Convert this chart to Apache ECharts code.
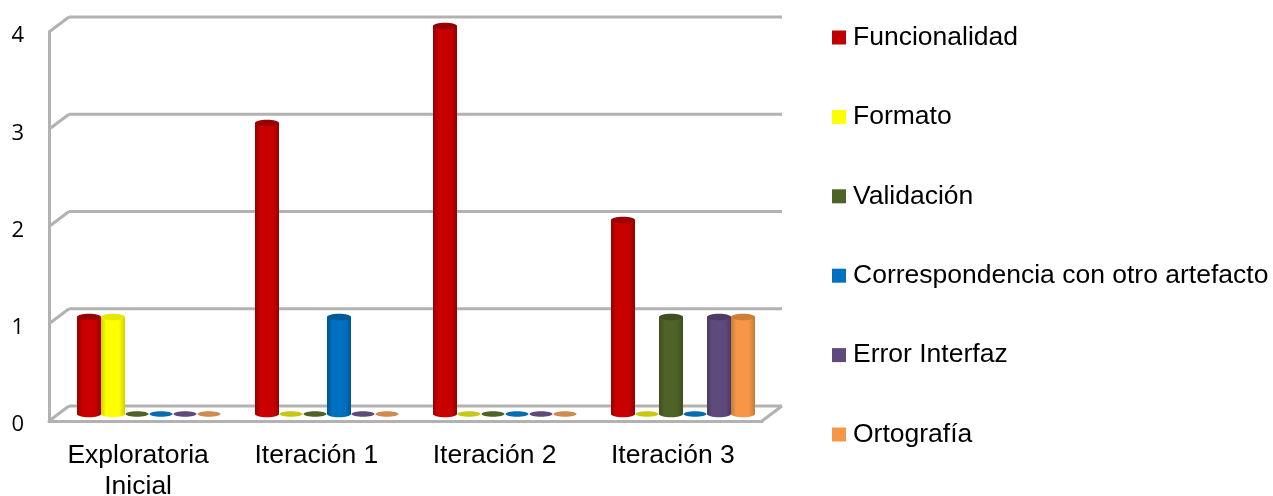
<!DOCTYPE html>
<html><head><meta charset="utf-8">
<style>html,body{margin:0;padding:0;background:#fff}#c{width:1273px;height:496px}</style>
<script src="https://cdn.jsdelivr.net/npm/echarts@6/dist/echarts.min.js"></script>
</head><body><div id="c"></div>
<script>
const categories = ['Exploratoria\nInicial','Iteración 1','Iteración 2','Iteración 3'];
const funcionalidad = [1,3,4,2];
const formato = [1,0,0,0];
const validacion = [0,0,0,1];
const correspondencia = [0,1,0,0];
const errorInterfaz = [0,0,0,1];
const ortografia = [0,0,0,1];
const yTicks = [0,1,2,3,4];
const names = ['Funcionalidad','Formato','Validación','Correspondencia con otro artefacto','Error Interfaz','Ortografía'];
const values = [funcionalidad,formato,validacion,correspondencia,errorInterfaz,ortografia];
const colors = ['#C80000','#FFFF00','#4F6228','#0070C0','#604A7B','#F79646'];
const edges  = ['#960000','#D0D000','#3E4E1E','#00568F','#4B3A61','#C47A3A'];
const caps   = ['#9A0000','#E6E600','#3F4F20','#005A9A','#4D3B63','#CF7D38'];
const zeroCaps = ['#9A0000','#C8C814','#4F6228','#0A6CB0','#604A7B','#D08A4E'];
const legendColors = ['#C00000','#FFFF00','#4F6228','#0070C0','#604A7B','#F79646'];
const FONT = '"Liberation Sans", Arial, sans-serif';
const DX = 20, DY = -15;

function cylinder(si){
  return function(params, api){
    const cat = api.value(0), v = api.value(1);
    const catW = api.size([1,0])[0];
    const w = catW * 144 / 178 / 6;
    const top = api.coord([cat, v]);
    const base = api.coord([cat, 0]);
    const cx = top[0] + (si - 2.5) * w;
    const rx = w / 2, ry = 3.2;
    if (v === 0) {
      return {type:'ellipse', shape:{cx, cy:base[1], rx:rx-0.5, ry:2.8}, style:{fill:zeroCaps[si]}};
    }
    const fill = new echarts.graphic.LinearGradient(0,0,1,0,[
      {offset:0,color:edges[si]},{offset:0.22,color:colors[si]},
      {offset:0.75,color:colors[si]},{offset:1,color:edges[si]}]);
    return {type:'group', children:[
      {type:'ellipse', shape:{cx, cy:base[1], rx, ry}, style:{fill}},
      {type:'rect', shape:{x:cx-rx, y:top[1], width:w, height:base[1]-top[1]}, style:{fill}},
      {type:'ellipse', shape:{cx, cy:top[1], rx, ry}, style:{fill:caps[si]}}
    ]};
  };
}

function frame(params, api){
  const v = api.value(0);
  const half = api.size([1,0])[0] / 2;
  const p = api.coord([0, v]);
  const q = api.coord([categories.length-1, v]);
  const x0 = p[0] - half, x1 = q[0] + half, y = p[1];
  const style = {stroke:'#B2B2B2', lineWidth:3, fill:'none'};
  const kids = [
    {type:'line', shape:{x1:x0, y1:y, x2:x0+DX, y2:y+DY}, style},
    {type:'line', shape:{x1:x0+DX, y1:y+DY, x2:x1+DX, y2:y+DY}, style}
  ];
  if (v === 0) kids.push({type:'line', shape:{x1:x1, y1:y, x2:x1+DX, y2:y+DY}, style});
  return {type:'group', children:kids};
}

const chart = echarts.init(document.getElementById('c'), null, {renderer:'canvas'});
chart.setOption({
  animation:false,
  backgroundColor:'#fff',
  legend:{
    orient:'vertical', left:827, top:17.5, itemWidth:14, itemHeight:14, itemGap:49.4,
    icon:'rect',
    data:names,
    textStyle:{fontFamily:FONT, fontSize:26.5, color:'#000', padding:[0,0,0,2], lineHeight:30}
  },
  grid:[
    {left:49, right:1273-762, top:32, bottom:496-421, outerBoundsMode:'none'},
    {left:60, right:1273-772, top:26, bottom:496-414, outerBoundsMode:'none'},
    {left:49, right:1273-762, top:36, bottom:496-425, outerBoundsMode:'none'}
  ],
  xAxis:[
    {type:'category', gridIndex:0, data:categories,
     axisLine:{lineStyle:{color:'#B2B2B2', width:3}}, axisTick:{show:false},
     axisLabel:{fontFamily:FONT, fontSize:26.5, color:'#000', margin:19, lineHeight:31, interval:0}},
    {type:'category', gridIndex:1, data:categories, show:false},
    {type:'category', gridIndex:2, data:categories, show:false}
  ],
  yAxis:[
    {type:'value', gridIndex:0, min:0, max:4, interval:1,
     axisLine:{show:true, lineStyle:{color:'#B2B2B2', width:3}}, axisTick:{show:false},
     axisLabel:{show:false}, splitLine:{show:false}},
    {type:'value', gridIndex:1, min:0, max:4, interval:1, show:false, splitLine:{show:false}},
    {type:'value', gridIndex:2, min:0, max:4, interval:1,
     axisLine:{show:false}, axisTick:{show:false}, splitLine:{show:false},
     axisLabel:{fontFamily:'"Open Sans", "Liberation Sans", sans-serif', fontSize:22, color:'#000', margin:25, formatter:v=>yTicks.includes(v)?String(v):''}}
  ],
  series:[
    {type:'custom', name:'marco', xAxisIndex:0, yAxisIndex:0, silent:true, z:1,
     renderItem:frame, data:yTicks.map(v=>[v]), encode:{y:0}, clip:false},
    ...names.map((n,si)=>({
      type:'custom', name:n, xAxisIndex:1, yAxisIndex:1, z:3, clip:false,
      itemStyle:{color:legendColors[si]},
      renderItem:cylinder(si),
      encode:{x:0,y:1},
      data:values[si].map((v,i)=>[i,v])
    }))
  ]
});
</script></body></html>
